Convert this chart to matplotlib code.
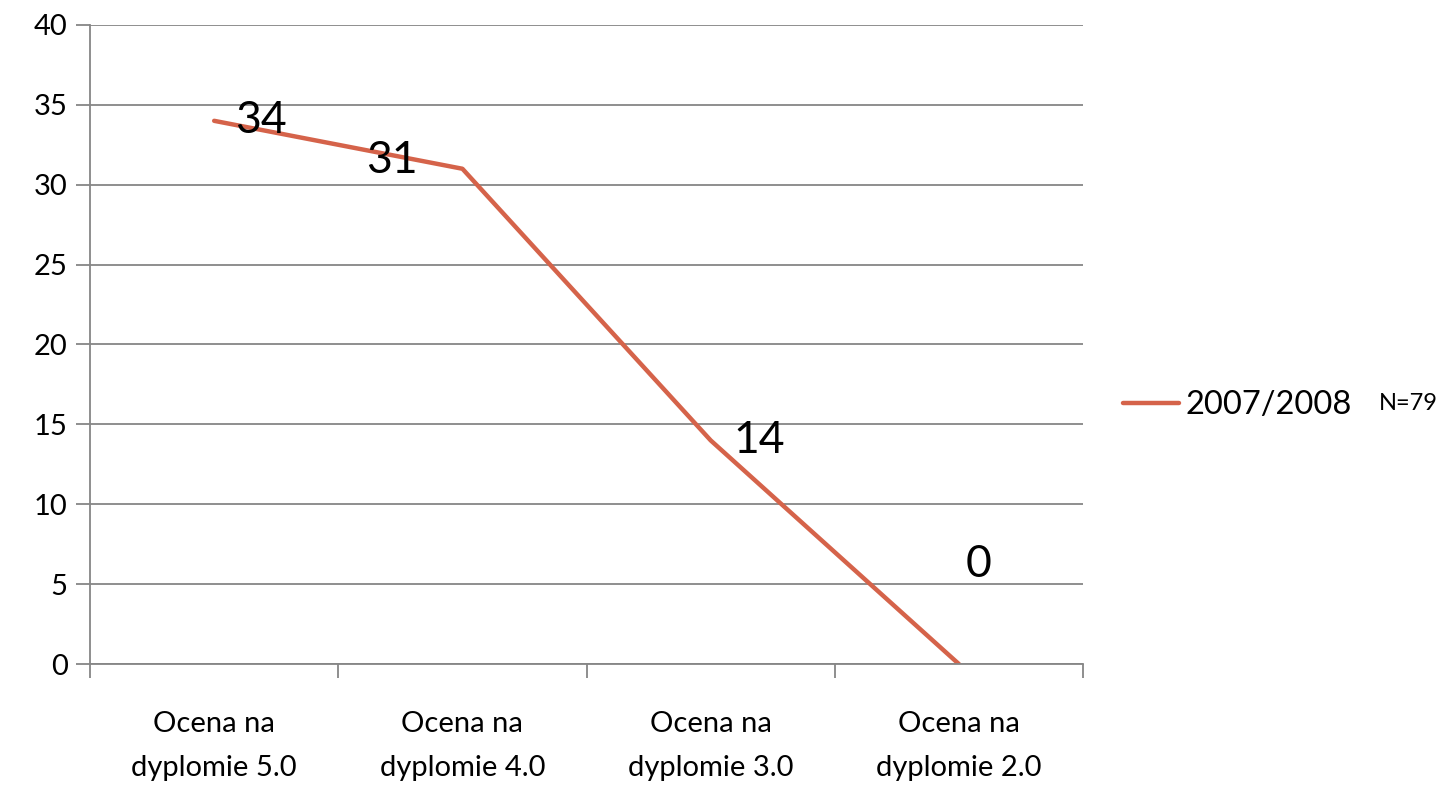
import numpy as np
import matplotlib.pyplot as plt
from matplotlib.ticker import MultipleLocator

categories = ["Ocena na\ndyplomie 5.0", "Ocena na\ndyplomie 4.0",
              "Ocena na\ndyplomie 3.0", "Ocena na\ndyplomie 2.0"]
values = [34, 31, 14, 0]
series_name = "2007/2008"
note = "N=79"

# label offsets in points (label placement copied from the original chart)
label_offsets = [(34, 0), (-51, 6), (35, 0), (14, 72)]

plt.rcParams['font.family'] = ['Lato', 'DejaVu Sans']
grid_c = '#868686'
line_c = '#D5634A'

fig = plt.figure(figsize=(14.5, 7.85), dpi=100)
ax = fig.add_axes([0.0621, 0.1541, 0.6848, 0.8141])

x = np.arange(len(categories))
ax.plot(x, values, color=line_c, lw=3.2, solid_capstyle='round', label=series_name)

for xi, v, off in zip(x, values, label_offsets):
    ax.annotate(str(v), (xi, v), xytext=off, textcoords='offset points',
                ha='center', va='center', fontsize=32)

ax.set_xlim(-0.5, len(categories) - 0.5)
ax.set_ylim(0, 40)
ax.yaxis.set_major_locator(MultipleLocator(5))
ax.set_xticks(np.arange(len(categories) + 1) - 0.5)
ax.set_xticklabels([])
ax.set_xticks(x, minor=True)
ax.set_xticklabels(categories, minor=True, fontsize=21, linespacing=1.85)
ax.tick_params(axis='x', which='minor', length=0, pad=34)
ax.tick_params(axis='x', which='major', length=10, width=1.3, color=grid_c)
ax.tick_params(axis='y', length=10, width=1.3, color=grid_c, labelsize=21, pad=6)

ax.grid(axis='y', color=grid_c, lw=1.3)
ax.set_axisbelow(True)
for s in ['top', 'right']:
    ax.spines[s].set_visible(False)
for s in ['left', 'bottom']:
    ax.spines[s].set_color(grid_c)
    ax.spines[s].set_linewidth(1.3)

leg = ax.legend(loc='center left', bbox_to_anchor=(1.011, 0.405), frameon=False,
                fontsize=23.5, handlelength=1.7, handletextpad=0.2)
fig.text(0.951, 0.486, note, fontsize=17, va='center', ha='left')

fig.savefig('out.png', dpi=100)
